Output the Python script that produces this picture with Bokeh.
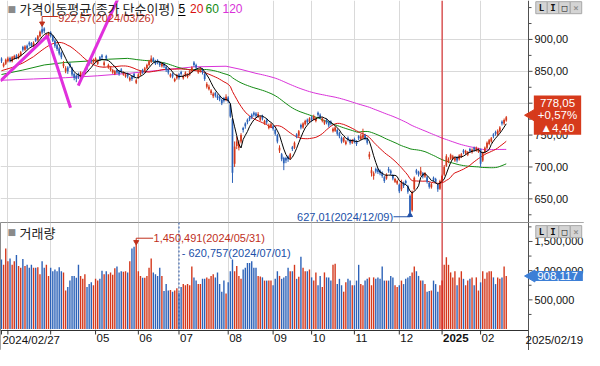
import numpy as np
import pandas as pd
from bokeh.plotting import figure
from bokeh.layouts import column
from bokeh.models import (ColumnDataSource, Range1d, FixedTicker, Span, Label, LabelSet, BoxAnnotation)
from bokeh.core.properties import value
from bokeh.embed import file_html
from bokeh.resources import INLINE

# ---------------- data ----------------
open_ = [870, 858, 862, 866, 871, 866, 870, 875, 871, 875,
         888, 884, 890, 895, 894, 890, 901, 899, 905, 916,
         917, 903, 905, 911, 905, 898, 891, 886, 879, 858,
         850, 856, 862, 855, 846, 843, 846, 842, 842, 846,
         859, 866, 869, 864, 866, 862, 872, 875, 860, 874,
         856, 852, 848, 846, 852, 850, 853, 845, 842, 846,
         836, 842, 846, 832, 840, 845, 852, 850, 855, 860,
         865, 870, 866, 867, 864, 858, 862, 857, 853, 842,
         846, 835, 839, 845, 849, 839, 843, 841, 845, 850,
         864, 860, 848, 850, 853, 846, 826, 822, 816, 811,
         816, 812, 810, 805, 808, 805, 809, 798, 775, 705,
         733, 730, 740, 761, 768, 774, 778, 782, 785, 784,
         779, 774, 780, 768, 774, 761, 763, 764, 758, 750,
         726, 720, 714, 714, 716, 714, 731, 730, 751, 749,
         766, 762, 767, 774, 771, 778, 775, 772, 785, 782,
         772, 768, 774, 770, 771, 756, 757, 758, 753, 746,
         740, 736, 746, 742, 738, 744, 740, 748, 744, 746,
         750, 744, 716, 690, 686, 697, 696, 694, 691, 684,
         682, 697, 694, 687, 677, 674, 672, 665, 675, 678,
         670, 655, 632, 665, 695, 692, 688, 690, 685, 684,
         675, 668, 683, 681, 672, 666, 678, 688, 702, 708,
         713, 713, 710, 715, 712, 716, 726, 721, 719, 728,
         723, 730, 726, 724, 728, 710, 723, 730, 736, 740,
         751, 755, 751, 756, 771, 768, 773]
high = [872, 864, 870, 873, 873, 874, 876, 877, 878, 882,
        890, 891, 892, 897, 896, 897, 903, 907, 914, 922.57,
        919, 910, 912, 913, 907, 900, 893, 888, 881, 866,
        858, 858, 864, 857, 848, 845, 848, 850, 849, 854,
        861, 868, 871, 870, 872, 868, 874, 877, 866, 876,
        862, 858, 854, 852, 854, 852, 855, 850, 847, 848,
        842, 844, 848, 838, 847, 852, 854, 857, 862, 868,
        875, 872, 868, 869, 866, 864, 864, 859, 855, 847,
        848, 840, 846, 847, 851, 845, 850, 847, 852, 858,
        866, 862, 854, 856, 855, 848, 833, 829, 822, 817,
        818, 814, 812, 807, 810, 814, 811, 800, 777, 740,
        748, 742, 753, 763, 770, 776, 780, 784, 787, 786,
        786, 780, 782, 774, 776, 768, 769, 766, 760, 752,
        734, 722, 716, 716, 718, 722, 733, 740, 753, 758,
        768, 770, 774, 776, 778, 780, 782, 778, 787, 784,
        778, 774, 776, 772, 773, 762, 764, 760, 755, 748,
        747, 742, 748, 744, 744, 746, 742, 750, 752, 760,
        752, 746, 724, 700, 693, 699, 698, 696, 693, 686,
        690, 700, 696, 689, 683, 680, 674, 680, 677, 680,
        672, 657, 663, 685, 697, 694, 700, 692, 692, 686,
        677, 675, 685, 683, 674, 680, 688, 703, 720, 715,
        721, 719, 716, 717, 720, 722, 728, 727, 725, 730,
        729, 732, 732, 730, 729, 724, 732, 740, 744, 747,
        753, 757, 759, 764, 773, 776, 780]
low = [863, 856, 860, 864, 864, 864, 868, 869, 869, 873,
       881, 882, 884, 889, 888, 888, 896, 897, 903, 908,
       910, 901, 903, 903, 896, 887, 882, 875, 869, 855,
       847, 846, 855, 842, 836, 833, 838, 840, 840, 844,
       852, 859, 863, 862, 864, 860, 866, 869, 857, 867,
       854, 850, 846, 844, 846, 843, 847, 843, 840, 839,
       834, 835, 839, 830, 838, 843, 846, 848, 853, 858,
       863, 864, 860, 861, 857, 856, 855, 849, 845, 840,
       839, 833, 837, 837, 843, 837, 841, 839, 843, 848,
       857, 853, 846, 848, 845, 835, 823, 820, 813, 808,
       809, 805, 803, 797, 801, 803, 800, 777, 675, 700,
       728, 726, 737, 754, 760, 767, 772, 775, 779, 777,
       777, 772, 773, 766, 767, 759, 761, 757, 749, 737,
       722, 709, 695, 706, 708, 711, 725, 728, 745, 747,
       759, 760, 765, 767, 769, 771, 773, 770, 779, 775,
       770, 766, 767, 762, 765, 754, 755, 749, 745, 737,
       738, 734, 740, 735, 736, 737, 733, 742, 742, 744,
       742, 735, 712, 685, 680, 690, 689, 687, 683, 675,
       680, 691, 687, 679, 675, 672, 659, 662, 667, 672,
       658, 627.01, 630, 663, 688, 685, 686, 682, 683, 674,
       666, 666, 677, 674, 661, 664, 676, 686, 700, 706,
       711, 711, 708, 707, 710, 714, 720, 719, 717, 722,
       721, 724, 724, 722, 700, 708, 721, 728, 734, 738,
       745, 749, 749, 754, 765, 766, 771]
close = [866, 862, 868, 870, 866, 872, 874, 871, 876, 880,
         884, 889, 886, 892, 890, 895, 898, 905, 912, 911,
         913, 908, 910, 905, 898, 890, 885, 878, 872, 862,
         855, 850, 858, 845, 840, 838, 842, 848, 846, 852,
         855, 862, 866, 868, 870, 866, 868, 872, 864, 870,
         860, 856, 852, 850, 848, 846, 850, 848, 845, 842,
         840, 838, 842, 836, 845, 850, 848, 855, 860, 866,
         870, 866, 862, 864, 860, 862, 858, 852, 848, 845,
         842, 838, 844, 840, 846, 843, 848, 845, 850, 856,
         860, 856, 852, 854, 848, 838, 830, 826, 820, 815,
         812, 808, 806, 800, 804, 810, 803, 779, 691, 732,
         740, 736, 750, 758, 764, 770, 775, 778, 782, 780,
         783, 778, 776, 772, 770, 765, 767, 760, 752, 740,
         730, 712, 706, 710, 712, 720, 728, 738, 748, 756,
         762, 768, 772, 770, 776, 774, 780, 776, 782, 778,
         776, 772, 770, 765, 768, 760, 762, 752, 748, 740,
         745, 740, 743, 738, 742, 740, 736, 745, 748, 750,
         745, 738, 720, 695, 690, 693, 692, 690, 686, 678,
         688, 694, 690, 682, 681, 678, 662, 677, 670, 675,
         661, 629, 661, 683, 691, 688, 694, 685, 690, 677,
         669, 673, 680, 677, 665, 678, 686, 700, 717, 712,
         719, 717, 714, 710, 718, 720, 723, 725, 723, 725,
         727, 727, 730, 728, 705, 722, 730, 738, 742, 745,
         748, 752, 757, 762, 768, 773.65, 778.05]
volume = [1190000, 1100000, 1380000, 1160000, 1210000, 1100000, 1160000, 1270000, 1080000, 1050000,
          1200000, 1080000, 1100000, 1050000, 1100000, 1050000, 1050000, 1060000, 940000, 1160000,
          1050000, 1100000, 910000, 1050000, 990000, 1020000, 990000, 1060000, 990000, 970000,
          660000, 720000, 830000, 910000, 910000, 880000, 1100000, 910000, 860000, 940000,
          720000, 770000, 800000, 750000, 860000, 830000, 860000, 1000000, 940000, 990000,
          940000, 970000, 930000, 1040000, 1070000, 970000, 990000, 980000, 990000, 970000,
          1160000, 1380000, 1410000, 1450491, 990000, 910000, 880000, 880000, 910000, 1050000,
          1210000, 970000, 940000, 910000, 1050000, 910000, 650000, 770000, 660000, 670000,
          640000, 660000, 700000, 620757, 720000, 770000, 750000, 770000, 750000, 1070000,
          885000, 830000, 770000, 770000, 860000, 860000, 885000, 860000, 910000, 940000,
          885000, 970000, 770000, 640000, 830000, 610000, 800000, 990000, 1190000, 990000,
          1080000, 910000, 860000, 1020000, 1050000, 1130000, 1130000, 1160000, 1050000, 1050000,
          910000, 900000, 885000, 830000, 830000, 830000, 830000, 750000, 860000, 990000,
          910000, 860000, 885000, 910000, 1050000, 990000, 990000, 1100000, 860000, 895000,
          1240000, 1050000, 990000, 990000, 1020000, 885000, 830000, 970000, 750000, 910000,
          720000, 970000, 885000, 885000, 830000, 1100000, 1120000, 770000, 860000, 750000,
          640000, 800000, 860000, 830000, 750000, 750000, 830000, 1100000, 770000, 750000,
          830000, 860000, 885000, 750000, 885000, 860000, 885000, 860000, 1070000, 830000,
          830000, 830000, 910000, 885000, 750000, 720000, 750000, 830000, 770000, 860000,
          885000, 910000, 970000, 1070000, 990000, 910000, 830000, 830000, 770000, 640000,
          650000, 660000, 830000, 770000, 640000, 750000, 830000, 1100000, 1230000, 1100000,
          970000, 885000, 990000, 750000, 885000, 990000, 860000, 750000, 830000, 860000,
          885000, 750000, 885000, 660000, 800000, 990000, 860000, 970000, 990000, 990000,
          885000, 770000, 885000, 860000, 885000, 1070000, 908117]

# month starts (trading-day index) and their labels
month_idx = [0, 3, 23, 44, 64, 83, 106, 127, 145, 165, 186, 206, 224]
month_labels = ["2024/02/27", "", "", "05", "06", "07", "08", "09", "10", "11", "12", "2025", "02"]
month_style = ["normal"] * 11 + ["bold", "normal"]
last_date = "2025/02/19"

price_ticks = [650, 700, 750, 800, 850, 900]
price_minor = [625, 675, 725, 775, 825, 875, 925, 950]
vol_ticks = [500000, 1000000, 1500000]
vol_minor = [250000, 750000, 1250000, 1750000]

# moving-average values before full windows exist
ma20_head_x = [0, 5, 10, 15]
ma20_head_y = [851, 856, 863, 873]
ma60_head_x = [0, 10, 20, 30, 40, 50]
ma60_head_y = [845, 852, 860, 864, 866, 869]
ma120_head_x = [0, 15, 30, 45, 60, 75, 90, 105, 112]
ma120_head_y = [836, 838, 840, 843, 847, 852, 857, 858, 853]

# hand-drawn trend lines on the chart
trend_x = [[-0.45, 21.4, 32.3], [35.9, 56.1]]
trend_y = [[835, 905.5, 793], [827.5, 976]]

hi_text = "922,57(2024/03/26)"
lo_text = "627,01(2024/12/09)"
vmax_text = "1,450,491(2024/05/31)"
cursor_idx = 83
cursor_text = "- 620,757(2024/07/01)"

# ---------------- layout / styling ----------------
RED = "#d4381c"
BLUE = "#2c62b8"
MA_COLORS = {5: "#000000", 20: "#d81010", 60: "#138a13", 120: "#d932d9"}
GRID = "#d9d9d9"
AXC = "#505050"
NUMFONT = "Liberation Sans"
KRFONT = "Noto Sans CJK KR"

W = 584
DATA_W = 528
X0, X1 = -0.45, 246.4            # data area in index units
PXI = DATA_W / (X1 - X0)         # pixels per index
XEND = X0 + W / PXI
H1 = 222
H2 = 128
AX_H = 20                        # bottom axis row height
P_LO, P_HI = 612.9, 961.1
PPX = (P_HI - P_LO) / H1
V_LO, V_HI = -25000, 1825000
VPX = (V_HI - V_LO) / (H2 - AX_H)
V_START = V_LO - AX_H * VPX


def dx(px):
    return px / PXI


o = np.array(open_, float)
c = np.array(close, float)
h = np.array(high, float)
l = np.array(low, float)
v = np.array(volume, float)
idx = np.arange(len(c))
colors = np.where(c >= o, RED, BLUE)

src = ColumnDataSource(dict(x=idx, o=o, h=h, l=l, c=c, top=np.maximum(o, c),
                            bottom=np.minimum(o, c), color=colors, vol=v))

xr = Range1d(X0, XEND)


def make_fig(height, yr):
    f = figure(width=W, height=height, x_range=xr, y_range=yr, output_backend="svg",
               toolbar_location=None, x_axis_location=None, y_axis_location=None,
               min_border_left=0, min_border_right=0, min_border_top=0, min_border_bottom=0)
    f.background_fill_color = "white"
    f.border_fill_color = "white"
    return f


def buttons(fig, ys):
    for ch, xx in [("L", 541), ("I", 552.5), ("□", 564), ("×", 575.5)]:
        fig.add_layout(Label(x=xx, y=ys, x_units="screen", y_units="screen", text=ch,
                             text_align="center", text_baseline="middle",
                             text_font="DejaVu Sans Mono", text_font_style="bold",
                             text_font_size="9px",
                             text_color="#909090" if ch == "×" else "#111111",
                             background_fill_color="#d4d4d4", border_line_color="#a8a8a8",
                             padding=(3, 1)))


def right_axis(fig, ticks, minor, labels):
    fig.add_layout(BoxAnnotation(left=X1, fill_color="white", fill_alpha=1.0, line_color=None))
    fig.add_layout(Span(location=X1, dimension="height", line_color=AXC, line_width=1))
    fig.segment(x0=[X1] * len(ticks), x1=[X1 + dx(4)] * len(ticks), y0=ticks, y1=ticks,
                line_color=AXC, line_width=1, level="overlay")
    fig.segment(x0=[X1] * len(minor), x1=[X1 + dx(3)] * len(minor), y0=minor, y1=minor,
                line_color=AXC, line_width=1, level="overlay")
    ls = ColumnDataSource(dict(x=[X1 + dx(6)] * len(ticks), y=ticks, t=labels))
    fig.add_layout(LabelSet(x="x", y="y", text="t", source=ls, text_baseline="middle",
                            text_font=value(NUMFONT), text_font_size=value("11px"),
                            text_color="#111111"))


# ---------------- price pane ----------------
p1 = make_fig(H1, Range1d(P_LO, P_HI))
p1.outline_line_color = None
p1.xgrid.ticker = FixedTicker(ticks=month_idx[1:])
p1.ygrid.ticker = FixedTicker(ticks=price_ticks)
p1.grid.grid_line_color = GRID

s = pd.Series(c)
for n, hx, hy in [(120, ma120_head_x, ma120_head_y), (60, ma60_head_x, ma60_head_y),
                  (20, ma20_head_x, ma20_head_y)]:
    m = s.rolling(n).mean().to_numpy()
    xs = list(hx) + list(idx[n - 1:])
    ys = list(hy) + list(m[n - 1:])
    p1.line(xs, ys, line_color=MA_COLORS[n], line_width=1)

p1.segment(x0="x", y0="h", x1="x", y1="l", line_color="color", line_width=1, source=src)
p1.vbar(x="x", width=0.8, top="top", bottom="bottom", fill_color="color",
        line_color=None, source=src)

m5 = s.rolling(5).mean().to_numpy()
p1.line(idx[4:], m5[4:], line_color=MA_COLORS[5], line_width=1)

p1.multi_line(trend_x, trend_y, line_color="#e030dc", line_width=3)

p1.add_layout(Span(location=month_idx[11], dimension="height", line_color="#d81010", line_width=1))

DRED = "#c0301c"
DBLUE = "#2050a8"
hi_i = int(np.argmax(h))
lo_i = int(np.argmin(l))
hi_line_y = P_HI - 16 * PPX
p1.line([hi_i, hi_i, hi_i + 7.4], [h[hi_i] + 2, hi_line_y, hi_line_y], line_color=DRED, line_width=1)
p1.scatter([hi_i], [h[hi_i] + 2.5], marker="inverted_triangle", size=5, color=DRED)
p1.add_layout(Label(x=hi_i + 7.6, y=P_HI - 17.8 * PPX, text=hi_text, text_baseline="middle",
                    text_font=NUMFONT, text_font_size="11px", text_color=DRED))
p1.line([lo_i - 7.7, lo_i, lo_i], [621.9, 621.9, l[lo_i] - 2], line_color=DBLUE, line_width=1)
p1.scatter([lo_i], [l[lo_i] - 2.5], marker="triangle", size=5, color=DBLUE)
p1.add_layout(Label(x=lo_i - 7.9, y=621.9, text=lo_text, text_baseline="middle", text_align="right",
                    text_font=NUMFONT, text_font_size="11px", text_color=DBLUE))

# legend row
p1.add_layout(Label(x=7, y=214, x_units="screen", y_units="screen", text="■", text_baseline="middle",
                    text_font="DejaVu Sans", text_font_size="9px", text_color="#8a8a8a"))
p1.add_layout(Label(x=19, y=214, x_units="screen", y_units="screen", text="가격이동평균(종가 단순이평)",
                    text_baseline="middle", text_font=KRFONT, text_font_size="13px", text_color="#222222"))
for txt, xx, n in [("5", 178, 5), ("20", 189.5, 20), ("60", 205, 60), ("120", 222, 120)]:
    p1.add_layout(Label(x=xx, y=214, x_units="screen", y_units="screen", text=txt,
                        text_baseline="middle", text_font=NUMFONT, text_font_size="12px",
                        text_color=MA_COLORS[n]))
ul_y = P_HI - 15 * PPX
p1.line([X0 + dx(177.5), X0 + dx(185)], [ul_y, ul_y], line_color="#000000", line_width=1)

right_axis(p1, price_ticks, price_minor, ["{:.2f}".format(t).replace(".", ",") for t in price_ticks])
buttons(p1, 214.8)

chg = c[-1] - c[-2]
pct = chg / c[-2] * 100
price_txt = "{:.2f}\n+{:.2f}%\n▲{:.2f}".format(c[-1], pct, chg).replace(".", ",")
marker_y = c[-1] + 2 * PPX
p1.scatter([X1 + dx(3)], [marker_y], marker="triangle", angle=np.pi / 2, size=12,
           color="#d63a1c", level="overlay")
p1.add_layout(Label(x=557, y=marker_y, x_units="screen", y_units="data", text=price_txt,
                    text_align="center", text_baseline="middle", text_font=NUMFONT,
                    text_font_size="11.5px", text_color="white", text_line_height=1.05,
                    background_fill_color="#d63a1c", padding=(4, 1)))

# ---------------- volume pane ----------------
p2 = make_fig(H2, Range1d(V_START, V_HI))
p2.outline_line_color = "#8c8c8c"
p2.ygrid.visible = False
p2.xgrid.ticker = FixedTicker(ticks=month_idx[1:])
p2.xgrid.grid_line_color = GRID

p2.vbar(x="x", width=0.65, top="vol", bottom=0, fill_color="color", line_color=None, source=src)

p2.add_layout(Span(location=month_idx[11], dimension="height", line_color="#d81010", line_width=1))
p2.add_layout(Span(location=cursor_idx, dimension="height", line_color=DBLUE, line_width=1,
                   line_dash="2 2"))

vm_i = int(np.argmax(v))
p2.line([vm_i, vm_i, vm_i + 7.9], [v[vm_i] + 30000, 1556000, 1556000], line_color=DRED, line_width=1)
p2.scatter([vm_i], [v[vm_i] + 40000], marker="inverted_triangle", size=5, color=DRED)
p2.add_layout(Label(x=vm_i + 8.1, y=1556000, text=vmax_text, text_baseline="middle",
                    text_font=NUMFONT, text_font_size="11px", text_color=DRED))
p2.add_layout(Label(x=cursor_idx + 1.3, y=1297000, text=cursor_text, text_baseline="middle",
                    text_font=NUMFONT, text_font_size="11px", text_color=DBLUE))

p2.add_layout(Label(x=7, y=118.4, x_units="screen", y_units="screen", text="■", text_baseline="middle",
                    text_font="DejaVu Sans", text_font_size="9px", text_color="#8a8a8a"))
p2.add_layout(Label(x=19, y=118.4, x_units="screen", y_units="screen", text="거래량",
                    text_baseline="middle", text_font=KRFONT, text_font_size="13px", text_color="#222222"))

# bottom axis row
p2.add_layout(BoxAnnotation(top=V_LO, fill_color="white", fill_alpha=1.0, line_color=None))
p2.add_layout(Span(location=V_LO, dimension="width", line_color="#303030", line_width=1))
p2.segment(x0=month_idx, x1=month_idx, y0=[V_LO] * len(month_idx),
           y1=[V_LO - 4 * VPX] * len(month_idx), line_color="#303030", line_width=1, level="overlay")
lab_src = ColumnDataSource(dict(x=[m + dx(1) for m in month_idx], t=month_labels, st=month_style))
p2.add_layout(LabelSet(x="x", y=17, y_units="screen", text="t", source=lab_src,
                       text_baseline="top", text_align="left", text_font=value(NUMFONT),
                       text_font_size=value("11.5px"), text_font_style="st", text_color="#111111"))

right_axis(p2, vol_ticks, vol_minor, ["{:,}".format(t) for t in vol_ticks])
p2.add_layout(Label(x=525, y=17, x_units="screen", y_units="screen", text=last_date,
                    text_baseline="top", text_font=NUMFONT, text_font_size="11.5px",
                    text_color="#111111"))
buttons(p2, 118.9)

p2.scatter([X1 + dx(3)], [v[-1]], marker="triangle", angle=np.pi / 2, size=12,
           color="#3d7fd6", level="overlay")
p2.add_layout(Label(x=557, y=v[-1], x_units="screen", y_units="data", text="{:,.0f}".format(v[-1]),
                    text_align="center", text_baseline="middle", text_font=NUMFONT,
                    text_font_size="11.5px", text_color="white",
                    background_fill_color="#3d7fd6", padding=(5, 1)))

layout = column(p1, p2, spacing=0)
open("out.html", "w").write(file_html(layout, INLINE))
